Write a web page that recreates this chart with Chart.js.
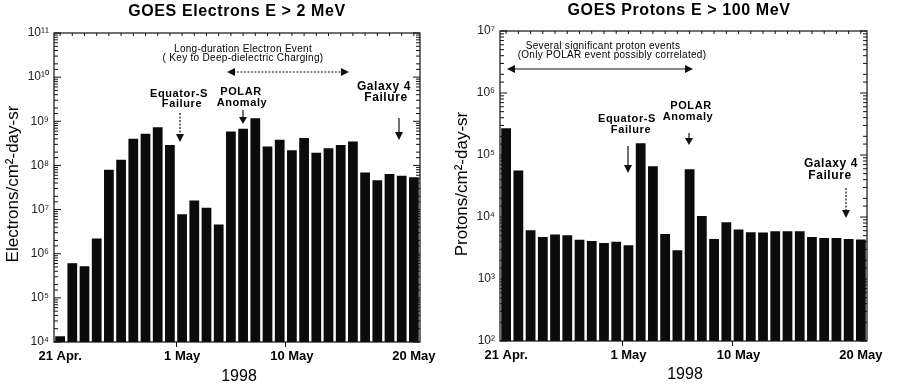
<!DOCTYPE html>
<html><head><meta charset="utf-8">
<script src="https://cdn.jsdelivr.net/npm/chart.js@4"></script>
<style>
body{margin:0;background:#fff;width:900px;height:385px;overflow:hidden}
.w{position:absolute;top:0;width:450px;height:385px}
</style></head><body>
<div class="w" style="left:0"><canvas id="c1" width="450" height="385"></canvas></div>
<div class="w" style="left:450px"><canvas id="c2" width="450" height="385"></canvas></div>
<script>
// ---- data ----
const days = ['21 Apr','22 Apr','23 Apr','24 Apr','25 Apr','26 Apr','27 Apr','28 Apr','29 Apr','30 Apr',
  '1 May','2 May','3 May','4 May','5 May','6 May','7 May','8 May','9 May','10 May',
  '11 May','12 May','13 May','14 May','15 May','16 May','17 May','18 May','19 May','20 May'];
const xTickIndex = [0, 10, 19, 29];
const xTickLabels = ['21 Apr.', '1 May', '10 May', '20 May'];
const electrons = [1.35e4, 6.1e5, 5.2e5, 2.2e6, 8.0e7, 1.35e8, 4.0e8, 5.2e8, 7.3e8, 2.9e8,
  7.8e6, 1.6e7, 1.1e7, 4.6e6, 5.9e8, 6.8e8, 1.17e9, 2.7e8, 3.8e8, 2.2e8,
  4.2e8, 1.95e8, 2.45e8, 2.9e8, 3.5e8, 6.9e7, 4.6e7, 6.4e7, 5.8e7, 5.4e7];
const protons = [2.7e5, 5.6e4, 6.1e3, 4.75e3, 5.2e3, 5.06e3, 4.3e3, 4.1e3, 3.8e3, 4.0e3,
  3.5e3, 1.54e5, 6.6e4, 5.3e3, 2.9e3, 5.9e4, 1.04e4, 4.4e3, 8.2e3, 6.3e3,
  5.7e3, 5.6e3, 5.9e3, 5.9e3, 5.9e3, 4.75e3, 4.6e3, 4.6e3, 4.4e3, 4.35e3];

const SUP = {'0':'⁰','1':'¹','2':'²','3':'³','4':'⁴','5':'⁵','6':'⁶','7':'⁷','8':'⁸','9':'⁹'};
const FONT = '"Liberation Sans", Arial, sans-serif';

function drawArrow(ctx, x1, y1, x2, y2, o) {
  o = o || {};
  const hl = o.hl || 8, hw = o.hw || 4;
  const a = Math.atan2(y2 - y1, x2 - x1);
  ctx.save();
  ctx.strokeStyle = '#111'; ctx.fillStyle = '#111';
  ctx.lineWidth = o.lw || 1.2;
  if (o.dash) ctx.setLineDash(o.dash);
  ctx.beginPath();
  const sx = o.both ? x1 + Math.cos(a) * hl * 0.8 : x1, sy = o.both ? y1 + Math.sin(a) * hl * 0.8 : y1;
  ctx.moveTo(sx, sy);
  ctx.lineTo(x2 - Math.cos(a) * hl * 0.8, y2 - Math.sin(a) * hl * 0.8);
  ctx.stroke();
  ctx.setLineDash([]);
  const head = (x, y, ang) => {
    ctx.beginPath();
    ctx.moveTo(x, y);
    ctx.lineTo(x - Math.cos(ang) * hl - Math.sin(ang) * hw, y - Math.sin(ang) * hl + Math.cos(ang) * hw);
    ctx.lineTo(x - Math.cos(ang) * hl + Math.sin(ang) * hw, y - Math.sin(ang) * hl - Math.cos(ang) * hw);
    ctx.closePath(); ctx.fill();
  };
  head(x2, y2, a);
  if (o.both) head(x1, y1, a + Math.PI);
  ctx.restore();
}

const decor = {
  id: 'decor',
  afterDraw(chart, args, opts) {
    const ctx = chart.ctx, ca = chart.chartArea;
    const y = chart.scales.y, x = chart.scales.x;
    ctx.save();
    ctx.strokeStyle = '#111'; ctx.lineWidth = 1.2;
    ctx.strokeRect(ca.left, ca.top, ca.right - ca.left, ca.bottom - ca.top);
    ctx.lineWidth = 1;
    y.ticks.forEach(t => {
      const l = Math.log10(t.value);
      const major = Math.abs(l - Math.round(l)) < 1e-9;
      const py = y.getPixelForValue(t.value);
      const len = major ? 7 : 4;
      ctx.beginPath();
      ctx.moveTo(ca.left, py); ctx.lineTo(ca.left + len, py);
      ctx.moveTo(ca.right, py); ctx.lineTo(ca.right - len, py);
      ctx.stroke();
    });
    for (let i = 0; i < days.length; i++) {
      const px = x.getPixelForValue(i);
      ctx.beginPath(); ctx.moveTo(px, ca.top); ctx.lineTo(px, ca.top + 3); ctx.stroke();
    }
    ctx.fillStyle = '#000'; ctx.textAlign = 'center'; ctx.textBaseline = 'middle';
    (opts.texts || []).forEach(t => {
      ctx.font = t.f + ' ' + FONT;
      ctx.letterSpacing = (t.ls || 0) + 'px';
      ctx.fillText(t.t, t.x, t.y);
    });
    ctx.letterSpacing = '0px';
    ctx.save();
    ctx.translate(opts.yTitle.x, opts.yTitle.y);
    ctx.rotate(-Math.PI / 2);
    ctx.font = '17px ' + FONT;
    ctx.fillText(opts.yTitle.t, 0, 0);
    ctx.restore();
    (opts.arrows || []).forEach(a => drawArrow(ctx, a[0], a[1], a[2], a[3], a[4]));
    ctx.restore();
  }
};

function makeChart(id, values, yMin, yMax, box, opts) {
  return new Chart(document.getElementById(id), {
    type: 'bar',
    data: { labels: days, datasets: [{ data: values, backgroundColor: '#0b0b0b', borderWidth: 0,
      categoryPercentage: 1.0, barPercentage: 0.8 }] },
    options: {
      responsive: false, animation: false,
      layout: { padding: { left: 0, top: box.top, right: 450 - box.right, bottom: 0 } },
      plugins: { legend: { display: false }, tooltip: { enabled: false }, decor: opts },
      scales: {
        x: {
          type: 'category', offset: true,
          grid: { drawOnChartArea: false, drawTicks: true, tickLength: 5,
            color: c => xTickIndex.includes(c.index) && c.index !== 0 && c.index !== 29 ? '#111' : 'rgba(0,0,0,0)' },
          border: { display: false },
          ticks: { autoSkip: false, maxRotation: 0, padding: 2, color: '#000',
            font: { family: FONT, size: 13, weight: 'bold' },
            callback: (v, i) => { const k = xTickIndex.indexOf(i); return k >= 0 ? xTickLabels[k] : ''; } },
          afterFit: s => { s.height = 385 - box.bottom; }
        },
        y: {
          type: 'logarithmic', min: yMin, max: yMax,
          grid: { display: false, drawTicks: false },
          border: { display: false },
          ticks: { autoSkip: false, padding: 5, color: '#222',
            font: { family: FONT, size: 12 },
            callback: v => { const l = Math.log10(v); const r = Math.round(l);
              return Math.abs(l - r) < 1e-9 ? '10' + String(r).split('').map(d => SUP[d]).join('') : ''; } },
          afterFit: s => { s.width = box.left; }
        }
      }
    },
    plugins: [decor]
  });
}

makeChart('c1', electrons, 1e4, 1e11, { left: 54, right: 420, top: 33, bottom: 342 }, {
  yTitle: { t: 'Electrons/cm²-day-sr', x: 13, y: 184 },
  texts: [
    { t: 'GOES Electrons E > 2 MeV', x: 237, y: 12, f: 'bold 16px', ls: 0.6 },
    { t: 'Long-duration Electron Event', x: 243, y: 49, f: '10px', ls: 0.3 },
    { t: '( Key to Deep-dielectric Charging)', x: 243, y: 58, f: '10px', ls: 0.3 },
    { t: 'Equator-S', x: 179, y: 94, f: 'bold 11px', ls: 0.6 },
    { t: 'Failure', x: 182, y: 104, f: 'bold 11px', ls: 0.6 },
    { t: 'POLAR', x: 241, y: 92, f: 'bold 11px', ls: 0.6 },
    { t: 'Anomaly', x: 242, y: 103, f: 'bold 11px', ls: 0.6 },
    { t: 'Galaxy 4', x: 384, y: 87, f: 'bold 12px', ls: 0.6 },
    { t: 'Failure', x: 386, y: 98, f: 'bold 12px', ls: 0.6 },
    { t: '1998', x: 239, y: 377, f: '16px' }
  ],
  arrows: [
    [227, 72, 349, 72, { both: true, dash: [2, 1.5] }],
    [180, 113, 180, 142, { dash: [2, 1.5] }],
    [243, 110, 243, 124, { hl: 7 }],
    [399, 118, 399, 140, {}]
  ]
});

makeChart('c2', protons, 1e2, 1e7, { left: 50, right: 417, top: 31, bottom: 341 }, {
  yTitle: { t: 'Protons/cm²-day-sr', x: 12, y: 184 },
  texts: [
    { t: 'GOES Protons E > 100 MeV', x: 229, y: 11, f: 'bold 16px', ls: 0.6 },
    { t: 'Several significant proton events', x: 153, y: 46, f: '10px', ls: 0.3 },
    { t: '(Only POLAR event possibly correlated)', x: 162, y: 55, f: '10px', ls: 0.3 },
    { t: 'POLAR', x: 241, y: 106, f: 'bold 11px', ls: 0.6 },
    { t: 'Anomaly', x: 238, y: 117, f: 'bold 11px', ls: 0.6 },
    { t: 'Equator-S', x: 177, y: 119, f: 'bold 11px', ls: 0.6 },
    { t: 'Failure', x: 181, y: 130, f: 'bold 11px', ls: 0.6 },
    { t: 'Galaxy 4', x: 381, y: 164, f: 'bold 12px', ls: 0.6 },
    { t: 'Failure', x: 380, y: 176, f: 'bold 12px', ls: 0.6 },
    { t: '1998', x: 235, y: 375, f: '16px' }
  ],
  arrows: [
    [57, 69, 243, 69, { both: true }],
    [178, 146, 178, 173, {}],
    [239, 133, 239, 145, { hl: 7 }],
    [396, 188, 396, 218, { dash: [2, 1.5] }]
  ]
});
</script>
</body></html>
